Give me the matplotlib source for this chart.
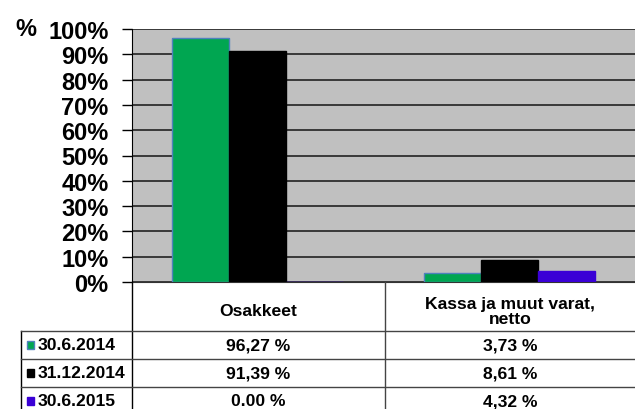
import matplotlib.pyplot as plt
import numpy as np

plt.rcParams['font.family'] = ['Liberation Sans', 'DejaVu Sans']
plt.rcParams['font.weight'] = 'bold'

categories = ['Osakkeet', 'Kassa ja muut varat,\nnetto']
series = ['30.6.2014', '31.12.2014', '30.6.2015']
values = [[96.27, 3.73],
          [91.39, 8.61],
          [0.00, 4.32]]
cell_text = [['96,27 %', '3,73 %'],
             ['91,39 %', '8,61 %'],
             ['0.00 %', '4,32 %']]
colors = ['#00A651', '#000000', '#3A00D6']
edges = ['#4F81BD', '#000000', '#3A00D6']

W, H = 635, 410
fig = plt.figure(figsize=(W / 100, H / 100), dpi=100)

# plot area in pixels
left, right, top, bottom = 132, 635, 30, 283
ax = fig.add_axes([left / W, 1 - bottom / H, (right - left) / W, (bottom - top) / H])
ax.set_facecolor('#C0C0C0')

x = np.arange(len(categories))
w = 57 / ((right - left) / 2)
for i, s in enumerate(series):
    ax.bar(x + (i - 1) * w, np.array(values[i]) / 100, width=w,
           color=colors[i], edgecolor=edges[i], linewidth=1, zorder=3)

ax.set_xlim(-0.5, 1.5)
ax.set_ylim(0, 1.0)
ax.set_yticks(np.arange(0, 1.01, 0.1))
ax.set_yticklabels([f'{int(round(v * 100))}%' for v in np.arange(0, 1.01, 0.1)],
                   fontsize=17, fontweight='bold')
ax.yaxis.grid(True, color='#222222', linewidth=1.2, zorder=1)
ax.set_axisbelow(True)
ax.tick_params(axis='y', length=7, width=1, pad=10)
ax.set_xticks([])
for sp in ['top', 'right']:
    ax.spines[sp].set_visible(False)
ax.spines['left'].set_color('black')
ax.spines['bottom'].set_color('#333333')

fig.text(15 / W, 1 - 30 / H, '%', fontsize=17, fontweight='bold', va='center')

# data table drawn in pixel coords
tb = fig.add_axes([0, 0, 1, 1], facecolor='none')
tb.set_xlim(0, W)
tb.set_ylim(H, 0)
tb.axis('off')

col_div = 385
row_lines = [332, 360, 388]
tb.plot([left, left], [bottom, H], color='black', lw=1)
tb.plot([col_div, col_div], [bottom, H], color='#444444', lw=1)
tb.plot([21, 21], [row_lines[0], H], color='black', lw=1)
for yl in row_lines:
    tb.plot([21, W], [yl, yl], color='#444444', lw=1)

fs = 12.6
col_centers = [258, 510]
tb.text(col_centers[0], 312, categories[0], ha='center', va='center',
        fontsize=fs, fontweight='bold')
tb.text(col_centers[1], 312, categories[1], ha='center', va='center',
        fontsize=fs, fontweight='bold', linespacing=1.05)

for i, s in enumerate(series):
    yc = row_lines[i] + 14
    tb.add_patch(plt.Rectangle((27, yc - 4), 7, 8, facecolor=colors[i],
                               edgecolor=edges[i], lw=1))
    tb.text(38, yc, s, ha='left', va='center', fontsize=fs, fontweight='bold')
    for j in range(len(categories)):
        tb.text(col_centers[j], yc, cell_text[i][j], ha='center', va='center',
                fontsize=fs, fontweight='bold')

fig.savefig('out.png', dpi=100)
